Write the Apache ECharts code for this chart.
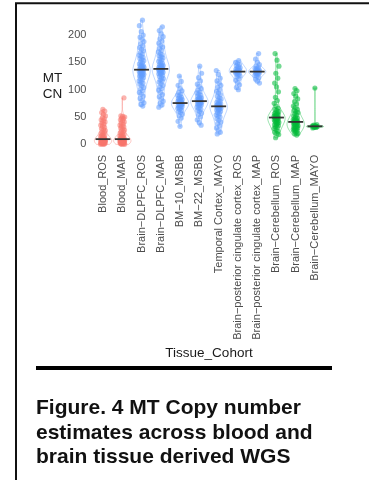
<!DOCTYPE html>
<html>
<head>
<meta charset="utf-8">
<script src="https://cdn.jsdelivr.net/npm/echarts@6/dist/echarts.min.js"></script>
<style>
  html, body { margin: 0; padding: 0; background: #fff; }
  #chart { width: 369px; height: 480px; }
</style>
</head>
<body>
<div id="chart"></div>
<script>
;(function() {
  // x categories
  var cohorts = [
    'Blood_ROS', 'Blood_MAP', 'Brain−DLPFC_ROS', 'Brain−DLPFC_MAP', 'BM−10_MSBB', 'BM−22_MSBB',
    'Temporal Cortex_MAYO', 'Brain−posterior cingulate cortex_ROS', 'Brain−posterior cingulate cortex_MAP',
    'Brain−Cerebellum_ROS', 'Brain−Cerebellum_MAP', 'Brain−Cerebellum_MAYO'
  ]
  var tissue = ['Blood', 'Blood', 'Brain', 'Brain', 'Brain', 'Brain', 'Brain', 'Brain', 'Brain', 'Cerebellum', 'Cerebellum', 'Cerebellum']
  var yTicks = [0, 50, 100, 150, 200]

  // MT CN per sample
  var blood_ros = [0,0,1,1,1,2,2,2,3,3,3,4,4,4,5,5,5,6,6,6,7,7,7,8,8,8,8,9,9,9,
    10,11,12,13,14,15,16,17,19,20,22,23,25,27,29,31,33,35,37,39,41,43,45,47,49,52,55,58,61,64]
  var blood_map = [0,0,1,1,1,2,2,2,3,3,3,4,4,4,5,5,5,6,6,6,7,7,7,8,8,8,8,9,9,9,
    10,11,12,13,14,15,16,17,18,20,21,23,24,26,28,30,32,33,35,37,39,41,43,45,47,48,50,51,52,85]
  var dlpfc_ros = [70,73,76,80,84,88,92,95,98,101,104,107,110,112,114,116,118,120,122,124,125,126,127,128,129,130,131,132,133,134,135,136,
    137,138,139,140,141,142,143,144,145,147,149,151,153,155,157,159,161,163,165,168,171,174,177,180,184,188,192,196,200,206,217,227]
  var dlpfc_map = [68,72,75,79,83,87,91,95,99,102,105,108,111,114,116,118,120,122,124,126,128,129,130,131,132,133,134,135,136,137,138,
    138,139,140,141,142,143,144,145,146,148,150,152,154,156,158,160,162,164,166,169,172,175,178,181,185,189,193,197,202,208,215]
  var bm10_msbb = [33,42,48,52,55,58,60,62,64,66,67,68,69,70,71,72,73,74,75,76,77,78,79,80,81,82,83,84,86,88,90,92,95,98,102,108,115,125]
  var bm22_msbb = [35,40,45,50,54,57,60,62,64,66,68,70,71,72,73,74,75,76,77,78,79,80,81,82,83,84,85,86,88,90,92,94,96,99,102,106,110,116,122,130,143]
  var temporal_mayo = [19,22,26,30,34,38,41,44,47,50,52,54,56,58,60,62,63,64,65,66,67,68,69,
    70,71,72,73,74,75,77,79,81,83,85,88,91,94,97,100,104,108,112,116,121,128,135]
  var pcc_ros = [100,104,109,113,117,120,123,125,127,129,130,131,132,133,134,135,136,137,138,139,140,142,144,146,148,150,153]
  var pcc_map = [112,116,119,122,124,126,128,129,130,131,132,132,133,134,135,136,137,138,139,141,143,146,150,156,166]
  var cereb_ros = [12,18,20,22,24,26,29,31,32,34,35,36,38,39,40,41,42,43,44,45,46,47,48,48,49,49,50,51,52,53,
    54,55,56,57,58,60,62,64,66,70,75,80,86,96,105,112,121,130,143,154,166]
  var cereb_map = [17,19,20,22,24,25,26,27,28,29,30,31,32,33,34,34,35,36,37,38,39,40,40,41,41,
    42,43,44,45,46,47,48,50,52,54,56,58,60,62,64,67,70,74,78,83,88,93,98,102]
  var cereb_mayo = [30,31,31,32,32,33,33,33,34,34,35,36,103]

  var cnValues = [blood_ros, blood_map, dlpfc_ros, dlpfc_map, bm10_msbb, bm22_msbb,
    temporal_mayo, pcc_ros, pcc_map, cereb_ros, cereb_map, cereb_mayo]

  var tissueColors = { Blood: '#F8766D', Brain: '#619CFF', Cerebellum: '#00BA38' }

  function quantile(sorted, p) {
    var h = (sorted.length - 1) * p
    var lo = Math.floor(h)
    var hi = Math.ceil(h)
    return sorted[lo] + (sorted[hi] - sorted[lo]) * (h - lo)
  }

  // gaussian kde, trimmed to data range, scaled so every violin has the same max width
  function violinShape(vals) {
    var s = vals.slice().sort(function(a, b) { return a - b })
    var n = s.length
    var mean = s.reduce(function(a, b) { return a + b }, 0) / n
    var sd = Math.sqrt(s.reduce(function(a, b) { return a + (b - mean) * (b - mean) }, 0) / (n - 1))
    var iqr = quantile(s, 0.75) - quantile(s, 0.25)
    var bw = 0.9 * Math.min(sd, iqr / 1.34) * Math.pow(n, -0.2)
    var lo = s[0], hi = s[n - 1]
    var steps = 60
    var pts = []
    var maxD = 0
    for (var k = 0; k <= steps; k++) {
      var y = lo + (hi - lo) * k / steps
      var d = 0
      for (var j = 0; j < n; j++) {
        var z = (y - s[j]) / bw
        d += Math.exp(-0.5 * z * z)
      }
      pts.push([y, d])
      if (d > maxD) maxD = d
    }
    return pts.map(function(p) { return [p[0], p[1] / maxD] })
  }

  var shapes = cnValues.map(violinShape)
  var medians = cnValues.map(function(v) {
    return quantile(v.slice().sort(function(a, b) { return a - b }), 0.5)
  })

  var pointData = []
  cnValues.forEach(function(vals, i) {
    vals.forEach(function(v, k) { pointData.push([i, v, k]) })
  })

  var chart = echarts.init(document.getElementById('chart'))

  var option = {
    animation: false,
    textStyle: { fontFamily: 'Liberation Sans, Arial, sans-serif' },
    grid: { left: 93.4, right: 44.4, top: 15.85, bottom: 330.2, containLabel: false },
    xAxis: {
      type: 'category',
      data: cohorts,
      name: 'Tissue_Cohort',
      nameLocation: 'middle',
      nameGap: 196,
      nameTextStyle: { fontSize: 13.5, color: '#1a1a1a' },
      axisLine: { show: false },
      axisTick: { show: false },
      axisLabel: { rotate: 90, interval: 0, fontSize: 11, color: '#4d4d4d', margin: 5 }
    },
    yAxis: {
      type: 'value',
      min: -10,
      max: 235,
      axisLine: { show: false },
      axisTick: { show: false },
      splitLine: { show: false },
      axisLabel: { customValues: yTicks, fontSize: 11, color: '#4d4d4d', margin: 7 }
    },
    series: [
      {
        type: 'custom',
        name: 'violin',
        data: cohorts.map(function(c, i) { return [i, medians[i]] }),
        encode: { x: 0, y: 1 },
        clip: false,
        z: 2,
        renderItem: function(params, api) {
          var i = api.value(0)
          var half = api.size([1, 0])[0] * 0.45
          var left = [], right = []
          shapes[i].forEach(function(p) {
            var c = api.coord([i, p[0]])
            left.push([c[0] - p[1] * half, c[1]])
            right.unshift([c[0] + p[1] * half, c[1]])
          })
          return {
            type: 'polygon',
            shape: { points: left.concat(right) },
            style: { fill: 'rgba(255,255,255,0)', stroke: tissueColors[tissue[i]], lineWidth: 0.8, opacity: 0.5 }
          }
        }
      },
      {
        type: 'custom',
        name: 'samples',
        data: pointData,
        encode: { x: 0, y: 1 },
        clip: false,
        z: 3,
        renderItem: function(params, api) {
          var i = api.value(0)
          var k = api.value(2)
          var c = api.coord([i, api.value(1)])
          var jit = (((k * 0.618034 + i * 0.37) % 1) - 0.5) * 5
          return {
            type: 'circle',
            shape: { cx: c[0] + jit, cy: c[1], r: 2.6 },
            style: { fill: tissueColors[tissue[i]], opacity: 0.55 }
          }
        }
      },
      {
        type: 'custom',
        name: 'median',
        data: cohorts.map(function(c, i) { return [i, medians[i]] }),
        encode: { x: 0, y: 1 },
        clip: false,
        z: 4,
        renderItem: function(params, api) {
          var c = api.coord([api.value(0), api.value(1)])
          return {
            type: 'line',
            shape: { x1: c[0] - 7.5, y1: c[1], x2: c[0] + 7.5, y2: c[1] },
            style: { stroke: '#333333', lineWidth: 1.8 }
          }
        }
      }
    ],
    graphic: [
      { type: 'line', shape: { x1: 16, y1: 3, x2: 16, y2: 480 }, style: { stroke: '#111', lineWidth: 2 } },
      { type: 'line', shape: { x1: 15, y1: 3.2, x2: 369, y2: 3.2 }, style: { stroke: '#111', lineWidth: 2 } },
      { type: 'text', x: 52.5, y: 78, style: { text: 'MT', fontSize: 13.5, fill: '#1a1a1a', align: 'center', verticalAlign: 'middle', fontFamily: 'Liberation Sans, Arial, sans-serif' } },
      { type: 'text', x: 52.5, y: 94, style: { text: 'CN', fontSize: 13.5, fill: '#1a1a1a', align: 'center', verticalAlign: 'middle', fontFamily: 'Liberation Sans, Arial, sans-serif' } },
      { type: 'rect', shape: { x: 36, y: 366, width: 296, height: 4 }, style: { fill: '#000' } },
      { type: 'text', x: 36, y: 408.5, style: { text: 'Figure. 4 MT Copy number', fontSize: 21, fontWeight: 'bold', fill: '#111', verticalAlign: 'middle', fontFamily: 'Liberation Sans, Arial, sans-serif' } },
      { type: 'text', x: 36, y: 433, style: { text: 'estimates across blood and', fontSize: 21, fontWeight: 'bold', fill: '#111', verticalAlign: 'middle', fontFamily: 'Liberation Sans, Arial, sans-serif' } },
      { type: 'text', x: 36, y: 457.5, style: { text: 'brain tissue derived WGS', fontSize: 21, fontWeight: 'bold', fill: '#111', verticalAlign: 'middle', fontFamily: 'Liberation Sans, Arial, sans-serif' } }
    ]
  }

  chart.setOption(option)
})()
</script>
</body>
</html>
